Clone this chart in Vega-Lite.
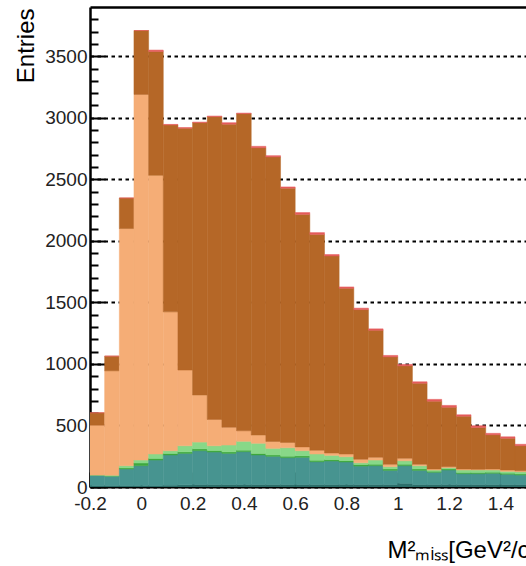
{
  "$schema": "https://vega.github.io/schema/vega-lite/v6.json",
  "width": 436,
  "height": 480,
  "autosize": {"type": "none"},
  "padding": {"left": 90, "top": 7, "right": 0, "bottom": 79},
  "background": "white",
  "config": {"view": {"stroke": null}, "font": "Liberation Sans"},
  "data": {
    "values": [
      {"x0": -0.2, "x1": -0.1429, "c1": 12, "c2": 85, "c3": 0, "c4": 0, "c5": 406, "c6": 100, "c7": 0},
      {"x0": -0.1429, "x1": -0.0857, "c1": 12, "c2": 77, "c3": 0, "c4": 6, "c5": 849, "c6": 119, "c7": 0},
      {"x0": -0.0857, "x1": -0.0286, "c1": 12, "c2": 134, "c3": 9, "c4": 18, "c5": 1927, "c6": 248, "c7": 0},
      {"x0": -0.0286, "x1": 0.0286, "c1": 12, "c2": 161, "c3": 22, "c4": 24, "c5": 2971, "c6": 519, "c7": 0},
      {"x0": 0.0286, "x1": 0.0857, "c1": 12, "c2": 207, "c3": 13, "c4": 36, "c5": 2264, "c6": 1006, "c7": 12},
      {"x0": 0.0857, "x1": 0.1429, "c1": 15, "c2": 245, "c3": 12, "c4": 23, "c5": 1128, "c6": 1518, "c7": 5},
      {"x0": 0.1429, "x1": 0.2, "c1": 18, "c2": 255, "c3": 12, "c4": 50, "c5": 615, "c6": 1965, "c7": 5},
      {"x0": 0.2, "x1": 0.2571, "c1": 20, "c2": 275, "c3": 15, "c4": 55, "c5": 382, "c6": 2213, "c7": 5},
      {"x0": 0.2571, "x1": 0.3143, "c1": 20, "c2": 264, "c3": 12, "c4": 39, "c5": 214, "c6": 2460, "c7": 5},
      {"x0": 0.3143, "x1": 0.3714, "c1": 20, "c2": 253, "c3": 12, "c4": 56, "c5": 144, "c6": 2463, "c7": 12},
      {"x0": 0.3714, "x1": 0.4286, "c1": 20, "c2": 267, "c3": 12, "c4": 72, "c5": 86, "c6": 2576, "c7": 5},
      {"x0": 0.4286, "x1": 0.4857, "c1": 20, "c2": 240, "c3": 12, "c4": 83, "c5": 67, "c6": 2334, "c7": 12},
      {"x0": 0.4857, "x1": 0.5429, "c1": 20, "c2": 229, "c3": 11, "c4": 54, "c5": 56, "c6": 2312, "c7": 10},
      {"x0": 0.5429, "x1": 0.6, "c1": 20, "c2": 218, "c3": 12, "c4": 69, "c5": 43, "c6": 2066, "c7": 10},
      {"x0": 0.6, "x1": 0.6571, "c1": 20, "c2": 221, "c3": 12, "c4": 42, "c5": 31, "c6": 1889, "c7": 15},
      {"x0": 0.6571, "x1": 0.7143, "c1": 20, "c2": 185, "c3": 12, "c4": 51, "c5": 30, "c6": 1754, "c7": 15},
      {"x0": 0.7143, "x1": 0.7714, "c1": 20, "c2": 191, "c3": 11, "c4": 35, "c5": 19, "c6": 1601, "c7": 12},
      {"x0": 0.7714, "x1": 0.8286, "c1": 20, "c2": 183, "c3": 11, "c4": 32, "c5": 22, "c6": 1346, "c7": 12},
      {"x0": 0.8286, "x1": 0.8857, "c1": 20, "c2": 150, "c3": 12, "c4": 15, "c5": 28, "c6": 1216, "c7": 12},
      {"x0": 0.8857, "x1": 0.9429, "c1": 20, "c2": 153, "c3": 12, "c4": 34, "c5": 22, "c6": 1032, "c7": 12},
      {"x0": 0.9429, "x1": 1.0, "c1": 20, "c2": 115, "c3": 12, "c4": 18, "c5": 19, "c6": 873, "c7": 12},
      {"x0": 1.0, "x1": 1.0571, "c1": 30, "c2": 143, "c3": 12, "c4": 28, "c5": 20, "c6": 751, "c7": 12},
      {"x0": 1.0571, "x1": 1.1143, "c1": 20, "c2": 115, "c3": 12, "c4": 26, "c5": 11, "c6": 659, "c7": 12},
      {"x0": 1.1143, "x1": 1.1714, "c1": 20, "c2": 99, "c3": 9, "c4": 10, "c5": 8, "c6": 551, "c7": 15},
      {"x0": 1.1714, "x1": 1.2286, "c1": 20, "c2": 118, "c3": 9, "c4": 10, "c5": 8, "c6": 483, "c7": 15},
      {"x0": 1.2286, "x1": 1.2857, "c1": 20, "c2": 88, "c3": 10, "c4": 20, "c5": 8, "c6": 429, "c7": 12},
      {"x0": 1.2857, "x1": 1.3429, "c1": 20, "c2": 88, "c3": 10, "c4": 20, "c5": 6, "c6": 339, "c7": 15},
      {"x0": 1.3429, "x1": 1.4, "c1": 20, "c2": 91, "c3": 9, "c4": 18, "c5": 8, "c6": 278, "c7": 12},
      {"x0": 1.4, "x1": 1.4571, "c1": 20, "c2": 83, "c3": 9, "c4": 15, "c5": 11, "c6": 258, "c7": 12},
      {"x0": 1.4571, "x1": 1.5143, "c1": 20, "c2": 77, "c3": 9, "c4": 18, "c5": 8, "c6": 203, "c7": 12}
    ]
  },
  "transform": [
    {"fold": ["c1", "c2", "c3", "c4", "c5", "c6", "c7"], "as": ["key", "value"]},
    {"stack": "value", "groupby": ["x0"], "sort": [{"field": "key", "order": "ascending"}], "as": ["ylo", "yhi"]}
  ],
  "layer": [
    {
      "mark": {"type": "rect", "clip": true, "strokeWidth": 0.5},
      "encoding": {
        "x": {
          "field": "x0", "type": "quantitative",
          "scale": {"domain": [-0.2, 1.5], "nice": false, "zero": false},
          "axis": {
            "orient": "bottom",
            "values": [-0.2, 0, 0.2, 0.4, 0.6, 0.8, 1, 1.2, 1.4],
            "format": "~g",
            "labelExpr": "replace(datum.label, '−', '-')",
            "labelFont": "Liberation Sans", "labelFontSize": 19, "labelColor": "#222",
            "labelPadding": 22, "labelFlush": false, "labelOverlap": false,
            "tickSize": -15, "tickWidth": 2, "tickColor": "black",
            "domainColor": "black", "domainWidth": 2,
            "grid": false,
            "title": "M²ₘᵢₛₛ[GeV²/c⁴]",
            "titleFont": "Liberation Sans", "titleFontSize": 24, "titleFontWeight": "normal", "titleColor": "black",
            "titleAlign": "left", "titleBaseline": "alphabetic", "titleX": 297, "titleY": 70
          }
        },
        "x2": {"field": "x1"},
        "y": {
          "field": "ylo", "type": "quantitative",
          "scale": {"domain": [0, 3900], "nice": false},
          "axis": {
            "orient": "left",
            "values": [0, 500, 1000, 1500, 2000, 2500, 3000, 3500],
            "format": "d",
            "labelFont": "Liberation Sans", "labelFontSize": 19, "labelColor": "#222",
            "labelPadding": 18, "labelFlush": false, "labelOverlap": false,
            "tickSize": -15, "tickWidth": 2, "tickColor": "black",
            "domainColor": "black", "domainWidth": 2.5,
            "grid": true, "gridColor": "black", "gridDash": [3.5, 3.5], "gridWidth": 2,
            "title": "Entries",
            "titleFont": "Liberation Sans", "titleFontSize": 24, "titleFontWeight": "normal", "titleColor": "black",
            "titleAngle": -90, "titleAlign": "right", "titleBaseline": "alphabetic",
            "titleX": -57, "titleY": 1
          }
        },
        "y2": {"field": "yhi"},
        "color": {
          "field": "key", "type": "nominal", "legend": null,
          "scale": {
            "domain": ["c1", "c2", "c3", "c4", "c5", "c6", "c7"],
            "range": ["#2d6f6b", "#479490", "#3ea83e", "#88d888", "#f5ad76", "#b56727", "#e45c5c"]
          }
        },
        "stroke": {
          "field": "key", "type": "nominal", "legend": null,
          "scale": {
            "domain": ["c1", "c2", "c3", "c4", "c5", "c6", "c7"],
            "range": ["#2d6f6b", "#479490", "#3ea83e", "#88d888", "#f5ad76", "#b56727", "#e45c5c"]
          }
        }
      }
    },
    {
      "mark": {"type": "point", "opacity": 0},
      "encoding": {
        "x": {
          "field": "x0", "type": "quantitative",
          "scale": {"domain": [-0.2, 1.5], "nice": false, "zero": false},
          "axis": {"orient": "top", "labels": false, "ticks": false, "grid": false, "domainColor": "black", "domainWidth": 2.5, "title": null}
        },
        "y": {
          "field": "yhi", "type": "quantitative",
          "scale": {"domain": [0, 3900], "nice": false},
          "axis": {
            "orient": "left",
            "values": [100, 200, 300, 400, 600, 700, 800, 900, 1100, 1200, 1300, 1400, 1600, 1700, 1800, 1900, 2100, 2200, 2300, 2400, 2600, 2700, 2800, 2900, 3100, 3200, 3300, 3400, 3600, 3700, 3800],
            "labels": false, "domain": false, "grid": false,
            "tickSize": -8, "tickWidth": 2, "tickColor": "black",
            "title": null
          }
        }
      }
    }
  ],
  "resolve": {"axis": {"x": "independent", "y": "independent"}}
}
